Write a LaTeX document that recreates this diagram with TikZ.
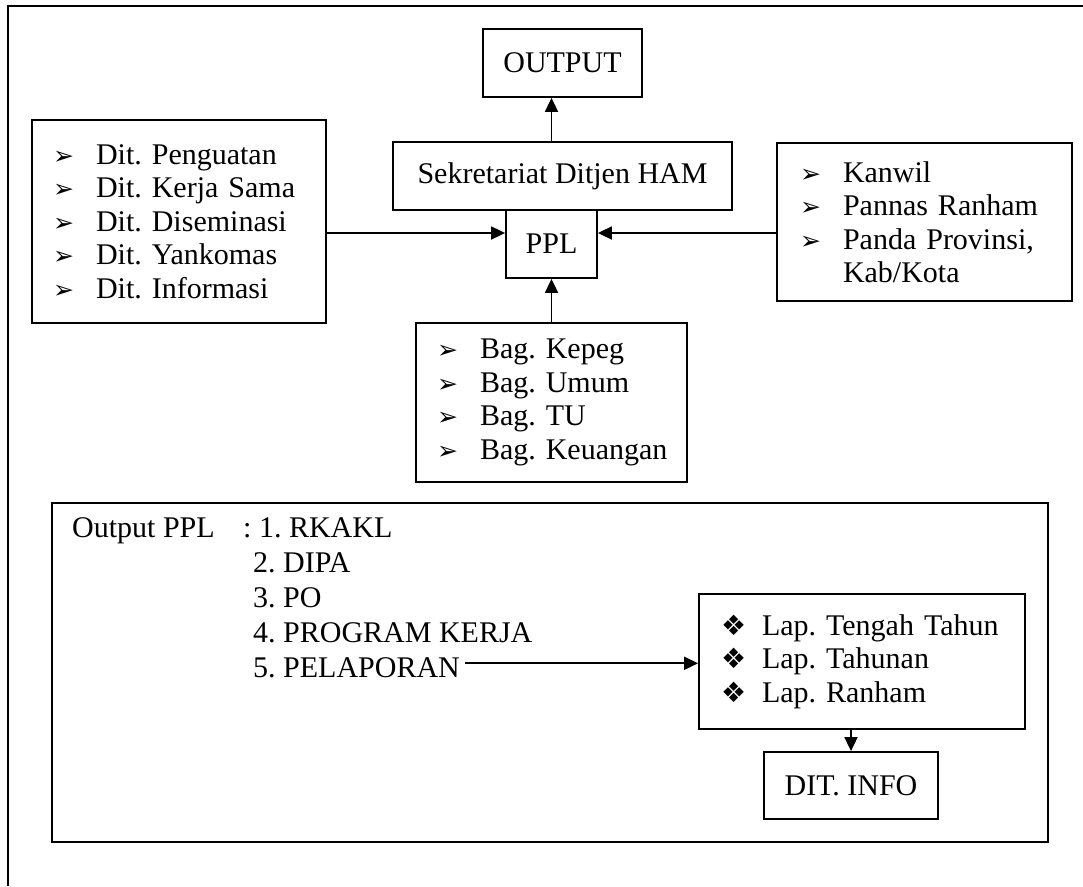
\documentclass[tikz,border=0pt]{standalone}
\usepackage{fontspec}
\setmainfont{Liberation Serif}
\newfontfamily\dejavu{DejaVu Sans}
\usetikzlibrary{arrows.meta}
\frenchspacing
\newcommand\arrli[1]{\mbox{\makebox[43pt][l]{\dejavu\fontsize{25}{25}\selectfont ➢}#1}}
\newcommand\diali[1]{\mbox{\makebox[41pt][l]{\dejavu\fontsize{28}{28}\selectfont ❖}#1}}
\begin{document}
\begin{tikzpicture}[x=1pt,y=-1pt,
  box/.style={draw, line width=1.8pt, rectangle, inner sep=0pt, font=\fontsize{30}{33.5}\selectfont},
  lst/.style={box, align=left},
  arr/.style={line width=1.8pt, -{Triangle[length=14pt,width=13pt]}},
  txt/.style={inner sep=0pt, font=\fontsize{30}{33.5}\selectfont, anchor=base west}]
\useasboundingbox (0,0) rectangle (1083,886);
\fill[white] (0,0) rectangle (1083,886);
% outer frame (cut at the bottom and right)
\draw[line width=2.2pt] (8,886) -- (8,6) -- (1083,6);

% upper part
\node[box, minimum width=159pt, minimum height=68pt] (out) at (562.5,63) {OUTPUT};
\node[box, minimum width=339pt, minimum height=68pt] (sek) at (562.5,176) {Sekretariat Ditjen HAM};
\node[box, minimum width=91pt, minimum height=68pt] (ppl) at (551.5,244) {PPL};

\node[lst, text width=252pt, inner xsep=21pt, minimum height=203pt] (lb) at (179,221.5)
  {\arrli{Dit. Penguatan}\\ \arrli{Dit. Kerja Sama}\\ \arrli{Dit. Diseminasi}\\ \arrli{Dit. Yankomas}\\ \arrli{Dit. Informasi}};
\node[lst, text width=249pt, inner xsep=23pt, minimum height=158pt] (rb) at (924.5,222)
  {\arrli{Kanwil}\\ \arrli{Pannas Ranham}\\ \arrli{Panda Provinsi,}\\ \mbox{\hspace*{43pt}Kab/Kota}};
\node[lst, text width=229pt, inner xsep=21pt, minimum height=159pt] (bb) at (551.5,402.5)
  {\arrli{Bag. Kepeg}\\ \arrli{Bag. Umum}\\ \arrli{Bag. TU}\\ \arrli{Bag. Keuangan}};

\coordinate (ay) at (0,233);
\draw[arr] (ppl.center |- sek.north) -- (ppl.center |- out.south);
\draw[arr] (lb.east |- ay) -- (ppl.west |- ay);
\draw[arr] (rb.west |- ay) -- (ppl.east |- ay);
\draw[arr] (ppl.center |- bb.north) -- (ppl.south);

% lower part
\node[draw, line width=2.2pt, inner sep=0pt, minimum width=996pt, minimum height=339pt] (low) at (550,672.5) {};
\node[txt] (opl) at (72,537) {Output PPL};
\node[txt] (i1) at (243,537) {: 1. RKAKL};
\node[txt] (i2) at (253,572) {2. DIPA};
\node[txt] (i3) at (253,607) {3. PO};
\node[txt] (i4) at (253,642) {4. PROGRAM KERJA};
\node[txt] (i5) at (253,677) {5. PELAPORAN};

\node[lst, text width=282pt, inner xsep=22pt, minimum height=135pt] (lap) at (862,661.5)
  {\diali{Lap. Tengah Tahun}\\ \diali{Lap. Tahunan}\\ \diali{Lap. Ranham}};
\node[box, minimum width=174pt, minimum height=67pt] (dit) at (851,785.5) {DIT. INFO};

\coordinate (p5) at ([xshift=5pt,yshift=4pt]i5.east);
\draw[arr] (p5) -- (p5 -| lap.west);
\draw[arr] (dit.north |- lap.south) -- (dit.north);
\end{tikzpicture}
\end{document}
